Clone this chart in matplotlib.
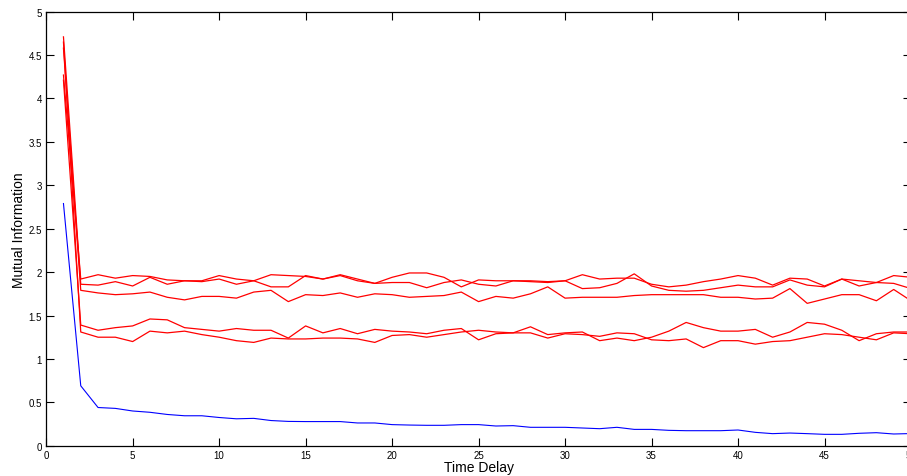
import numpy as np
from matplotlib import pyplot as plt

plt.rcParams['font.family'] = ['Liberation Sans', 'DejaVu Sans']

# time delays 1..50
delay = list(range(1, 51))

# mutual information, one list per run
mi_run1 = [4.27, 1.92, 1.97, 1.93, 1.96, 1.95, 1.91, 1.90, 1.90, 1.96,
           1.92, 1.90, 1.97, 1.96, 1.95, 1.92, 1.97, 1.92, 1.87, 1.94,
           1.99, 1.99, 1.94, 1.83, 1.91, 1.90, 1.90, 1.90, 1.89, 1.90,
           1.97, 1.92, 1.93, 1.93, 1.86, 1.83, 1.85, 1.89, 1.92, 1.96,
           1.93, 1.85, 1.93, 1.92, 1.84, 1.92, 1.90, 1.88, 1.87, 1.81]
mi_run2 = [4.71, 1.86, 1.85, 1.89, 1.84, 1.94, 1.86, 1.90, 1.89, 1.92,
           1.86, 1.90, 1.83, 1.83, 1.96, 1.92, 1.96, 1.90, 1.87, 1.88,
           1.88, 1.82, 1.88, 1.91, 1.86, 1.84, 1.90, 1.89, 1.88, 1.90,
           1.81, 1.82, 1.87, 1.98, 1.84, 1.79, 1.78, 1.79, 1.82, 1.85,
           1.83, 1.83, 1.91, 1.85, 1.83, 1.92, 1.84, 1.88, 1.96, 1.94]
mi_run3 = [4.58, 1.79, 1.76, 1.74, 1.75, 1.77, 1.71, 1.68, 1.72, 1.72,
           1.70, 1.77, 1.79, 1.66, 1.74, 1.73, 1.76, 1.71, 1.75, 1.74,
           1.71, 1.72, 1.73, 1.77, 1.66, 1.72, 1.70, 1.75, 1.83, 1.70,
           1.71, 1.71, 1.71, 1.73, 1.74, 1.74, 1.74, 1.74, 1.71, 1.71,
           1.69, 1.70, 1.81, 1.64, 1.69, 1.74, 1.74, 1.67, 1.80, 1.67]
mi_run4 = [4.21, 1.39, 1.33, 1.36, 1.38, 1.46, 1.45, 1.36, 1.34, 1.32,
           1.35, 1.33, 1.33, 1.24, 1.38, 1.30, 1.35, 1.29, 1.34, 1.32,
           1.31, 1.29, 1.33, 1.35, 1.22, 1.29, 1.30, 1.37, 1.28, 1.30,
           1.31, 1.21, 1.24, 1.21, 1.25, 1.32, 1.42, 1.36, 1.32, 1.32,
           1.34, 1.25, 1.31, 1.42, 1.40, 1.33, 1.21, 1.29, 1.31, 1.31]
mi_run5 = [4.65, 1.31, 1.25, 1.25, 1.20, 1.32, 1.30, 1.32, 1.28, 1.25,
           1.21, 1.19, 1.24, 1.23, 1.23, 1.24, 1.24, 1.23, 1.19, 1.27,
           1.28, 1.25, 1.28, 1.31, 1.33, 1.31, 1.30, 1.30, 1.24, 1.29,
           1.28, 1.26, 1.30, 1.29, 1.22, 1.21, 1.23, 1.13, 1.21, 1.21,
           1.17, 1.20, 1.21, 1.25, 1.29, 1.28, 1.25, 1.22, 1.30, 1.29]
red_runs = [mi_run1, mi_run2, mi_run3, mi_run4, mi_run5]

# the single blue curve
mi_blue = [2.79, 0.69, 0.44, 0.43, 0.40, 0.385, 0.36, 0.345, 0.345, 0.325,
           0.31, 0.315, 0.29, 0.28, 0.278, 0.278, 0.278, 0.262, 0.262, 0.243,
           0.238, 0.235, 0.235, 0.243, 0.243, 0.227, 0.231, 0.212, 0.212, 0.212,
           0.204, 0.196, 0.212, 0.188, 0.188, 0.177, 0.173, 0.173, 0.173, 0.181,
           0.154, 0.139, 0.146, 0.139, 0.131, 0.131, 0.143, 0.150, 0.135, 0.14]

xticks = list(range(0, 51, 5))
yticks = [0, 0.5, 1, 1.5, 2, 2.5, 3, 3.5, 4, 4.5, 5]
ytick_labels = ['0', '0.5', '1', '1.5', '2', '2.5', '3', '3.5', '4', '4.5', '5']

fig = plt.figure(figsize=(9.07, 4.77), dpi=100)
ax = fig.add_axes([0.0509, 0.0635, 0.9535, 0.9099])

for run in red_runs:
    ax.plot(delay, run, color='#ff0000', linewidth=0.9)
ax.plot(delay, mi_blue, color='#0000ff', linewidth=0.8)

ax.set_xlim(0, 50)
ax.set_ylim(0, 5)
ax.set_xticks(xticks)
ax.set_yticks(yticks)
ax.set_yticklabels(ytick_labels)
ax.tick_params(direction='in', length=5.5, width=0.8, labelsize=7,
               top=True, right=True, pad=3)
for s in ax.spines.values():
    s.set_linewidth(0.9)

ax.set_xlabel('Time Delay', fontsize=10, labelpad=0)
ax.set_ylabel('Mutual Information', fontsize=10, labelpad=2)

fig.savefig('out.png', dpi=100)
